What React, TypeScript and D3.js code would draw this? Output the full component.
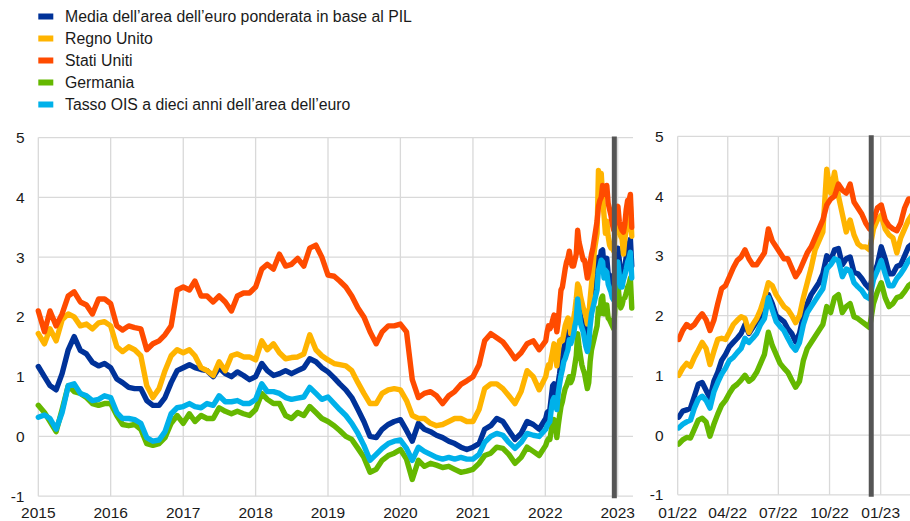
import React from "react";
import * as d3 from "d3";

const seriesNames = [
  "Media dell’area dell’euro ponderata in base al PIL",
  "Regno Unito",
  "Stati Uniti",
  "Germania",
  "Tasso OIS a dieci anni dell’area dell’euro",
];
const seriesColors = ["#003299", "#ffb400", "#ff4b00", "#65b800", "#00b1ea"];

// monthly readings, Jan 2015 - Dec 2021 (first of month)
const monthDates = d3.timeMonth.range(new Date(2015, 0, 1), new Date(2022, 0, 1));
// weekly readings from 3 Jan 2022 to 13 Mar 2023
const weekDates = d3.range(63).map((k) => d3.timeDay.offset(new Date(2022, 0, 3), 7 * k));

const euroAvgMonthly = [
  1.17, 1.0, 0.85, 0.78, 1.05, 1.45, 1.67, 1.44, 1.38, 1.24, 1.18, 1.22,
  1.15, 0.96, 0.9, 0.82, 0.8, 0.8, 0.6, 0.52, 0.52, 0.65, 0.9, 1.1,
  1.15, 1.2, 1.15, 1.12, 1.1, 1.0, 1.15, 1.05, 1.0, 1.08, 1.02, 0.95,
  1.0, 1.22, 1.1, 1.02, 1.05, 1.1, 1.05, 1.1, 1.15, 1.3, 1.25, 1.15,
  1.08, 0.98, 0.88, 0.78, 0.65, 0.45, 0.25, 0.0, -0.02, 0.12, 0.2, 0.25,
  0.28, 0.1, -0.08, 0.22, 0.12, 0.08, 0.02, -0.02, -0.08, -0.12, -0.18, -0.22,
  -0.18, -0.12, 0.12, 0.18, 0.3, 0.25, 0.1, -0.05, 0.05, 0.25, 0.2, 0.12,
];
const ukMonthly = [
  1.72, 1.55, 1.8, 1.6, 1.95, 2.05, 2.0, 1.85, 1.88, 1.8, 1.9, 1.92,
  1.85, 1.5, 1.42, 1.5, 1.45, 1.35, 0.85, 0.65, 0.8, 1.1, 1.35, 1.45,
  1.4, 1.45, 1.35, 1.15, 1.1, 1.02, 1.25, 1.1, 1.35, 1.38, 1.33, 1.33,
  1.28, 1.6, 1.45, 1.55, 1.4, 1.3, 1.32, 1.33, 1.38, 1.7, 1.45, 1.35,
  1.28, 1.22, 1.2, 1.18, 1.1, 0.9, 0.72, 0.55, 0.55, 0.72, 0.78, 0.8,
  0.78, 0.6, 0.35, 0.3, 0.3, 0.22, 0.18, 0.2, 0.25, 0.3, 0.3, 0.25,
  0.25, 0.45, 0.8, 0.88, 0.88, 0.8, 0.68, 0.55, 0.75, 1.1, 1.0, 0.78,
];
const usMonthly = [
  2.1, 1.75, 2.1, 1.85, 2.05, 2.35, 2.42, 2.25, 2.2, 2.05, 2.3, 2.3,
  2.22, 1.85, 1.78, 1.85, 1.82, 1.8, 1.45, 1.55, 1.6, 1.7, 1.85, 2.45,
  2.5, 2.45, 2.6, 2.35, 2.35, 2.25, 2.35, 2.25, 2.1, 2.35, 2.4, 2.4,
  2.5, 2.8, 2.88, 2.8, 3.05, 2.85, 2.88, 2.98, 2.85, 3.15, 3.2, 3.0,
  2.7, 2.68, 2.6, 2.5, 2.35, 2.15, 2.0, 1.75, 1.55, 1.75, 1.85, 1.85,
  1.88, 1.75, 0.95, 0.65, 0.72, 0.75, 0.68, 0.55, 0.68, 0.75, 0.87, 0.93,
  1.0, 1.2, 1.6, 1.72, 1.65, 1.58, 1.45, 1.3, 1.4, 1.55, 1.6, 1.45,
];
const germanyMonthly = [
  0.52, 0.4, 0.25, 0.08, 0.45, 0.85, 0.75, 0.72, 0.65, 0.55, 0.52, 0.55,
  0.55, 0.35, 0.2, 0.18, 0.2, 0.12, -0.12, -0.15, -0.12, -0.02, 0.22, 0.35,
  0.22, 0.38, 0.25, 0.35, 0.3, 0.3, 0.48, 0.42, 0.38, 0.42, 0.38, 0.35,
  0.45, 0.72, 0.62, 0.55, 0.55, 0.35, 0.3, 0.4, 0.35, 0.5, 0.4, 0.3,
  0.25, 0.18, 0.1, 0.0, -0.05, -0.2, -0.35, -0.6, -0.55, -0.4, -0.32, -0.28,
  -0.22, -0.38, -0.72, -0.4, -0.5, -0.45, -0.48, -0.52, -0.5, -0.55, -0.6, -0.58,
  -0.55, -0.45, -0.32, -0.28, -0.18, -0.2, -0.3, -0.45, -0.35, -0.18, -0.25, -0.32,
];
const oisMonthly = [
  0.32, 0.36, 0.3, 0.12, 0.4, 0.85, 0.88, 0.72, 0.68, 0.6, 0.62, 0.68,
  0.65, 0.4, 0.3, 0.3, 0.28, 0.22, -0.02, -0.08, -0.06, 0.08, 0.38, 0.48,
  0.5, 0.55, 0.5, 0.48, 0.55, 0.52, 0.68, 0.58, 0.58, 0.6, 0.55, 0.55,
  0.62, 0.88, 0.75, 0.75, 0.72, 0.65, 0.62, 0.64, 0.66, 0.82, 0.72, 0.62,
  0.66, 0.55, 0.45, 0.35, 0.22, 0.05, -0.15, -0.4, -0.3, -0.2, -0.12, -0.08,
  -0.06, -0.2, -0.4, -0.18, -0.25, -0.3, -0.35, -0.38, -0.35, -0.38, -0.35, -0.38,
  -0.38, -0.3, -0.1, 0.0, 0.05, 0.02, -0.1, -0.2, -0.1, 0.05, 0.02, 0.0,
];

const euroAvgWeekly = [
  0.3, 0.4, 0.42, 0.45, 0.65, 0.85, 0.88, 0.75, 0.62, 0.9, 1.05, 1.25, 1.35, 1.48, 1.55, 1.62,
  1.7, 1.85, 1.7, 1.8, 1.9, 1.95, 2.1, 2.35, 2.2, 2.0, 1.95, 1.9, 1.78, 1.7, 1.56, 1.7,
  2.0, 2.2, 2.35, 2.45, 2.55, 2.7, 3.0, 2.92, 3.1, 3.12, 2.85, 2.95, 2.98, 2.72, 2.7, 2.62,
  2.52, 2.45, 2.7, 2.85, 3.15, 2.95, 2.7, 2.7, 2.82, 2.85, 3.0, 3.15, 3.2, 3.3, 2.85,
];
const ukWeekly = [
  1.0, 1.12, 1.2, 1.15, 1.3, 1.42, 1.55, 1.45, 1.18, 1.4, 1.6, 1.62, 1.6, 1.72, 1.85, 1.92,
  1.98, 1.95, 1.72, 1.85, 1.95, 2.1, 2.3, 2.55, 2.5, 2.35, 2.25, 2.15, 2.1, 2.0, 1.88, 2.0,
  2.3, 2.55, 2.8, 3.1, 3.25, 3.4, 4.45, 4.05, 4.4, 4.0, 3.7, 3.4, 3.6, 3.35, 3.2, 3.15,
  3.15, 3.1, 3.45, 3.6, 3.68, 3.45, 3.35, 3.3, 3.05, 3.3, 3.45, 3.6, 3.7, 3.85, 3.35,
];
const usWeekly = [
  1.6, 1.75, 1.85, 1.8, 1.85, 1.95, 2.03, 1.93, 1.75, 1.92, 2.2, 2.45, 2.5, 2.65, 2.8, 2.92,
  2.98, 3.1, 2.95, 2.85, 2.85, 2.95, 3.05, 3.45, 3.25, 3.15, 3.05, 2.95, 2.95, 2.8, 2.65, 2.75,
  2.9, 3.05, 3.15, 3.3, 3.45, 3.6, 3.85, 3.95, 4.0, 4.2, 4.1, 4.05, 4.2, 3.9, 3.8, 3.7,
  3.55, 3.45, 3.6, 3.8, 3.85, 3.6, 3.5, 3.45, 3.42, 3.55, 3.8, 3.95, 3.95, 4.05, 3.5,
];
const germanyWeekly = [
  -0.15, -0.08, -0.04, -0.05, 0.1, 0.25, 0.28, 0.22, -0.02, 0.18, 0.35, 0.5, 0.58, 0.7, 0.8, 0.85,
  0.92, 1.0, 0.9, 0.95, 1.05, 1.2, 1.35, 1.72, 1.5, 1.35, 1.2, 1.12, 1.05, 0.92, 0.8, 0.9,
  1.25, 1.45, 1.55, 1.65, 1.75, 1.85, 2.15, 2.05, 2.3, 2.35, 2.05, 2.15, 2.2, 1.98, 1.95, 1.9,
  1.85, 1.8, 2.2, 2.4, 2.55, 2.3, 2.15, 2.2, 2.3, 2.32, 2.4, 2.5, 2.55, 2.65, 2.15,
];
const oisWeekly = [
  0.12, 0.18, 0.22, 0.25, 0.45, 0.6, 0.65, 0.58, 0.45, 0.72, 0.88, 1.02, 1.12, 1.25, 1.3, 1.38,
  1.45, 1.62, 1.55, 1.62, 1.7, 1.85, 1.95, 2.3, 2.1, 1.9, 1.82, 1.75, 1.62, 1.5, 1.42, 1.55,
  1.85, 2.05, 2.15, 2.25, 2.35, 2.45, 2.78, 2.85, 2.95, 2.92, 2.65, 2.78, 2.75, 2.55, 2.48, 2.42,
  2.32, 2.28, 2.6, 2.75, 2.92, 2.7, 2.5, 2.5, 2.62, 2.7, 2.8, 2.92, 2.98, 3.08, 2.65,
];

const yearTicks = ["2015", "2016", "2017", "2018", "2019", "2020", "2021", "2022", "2023"];
const quarterTicks = ["01/22", "04/22", "07/22", "10/22", "01/23"];
const yTicks = [-1, 0, 1, 2, 3, 4, 5];
const markerDate = new Date(2022, 11, 15);

const allDates = [...monthDates, ...weekDates];
const seriesValues = [
  [...euroAvgMonthly, ...euroAvgWeekly],
  [...ukMonthly, ...ukWeekly],
  [...usMonthly, ...usWeekly],
  [...germanyMonthly, ...germanyWeekly],
  [...oisMonthly, ...oisWeekly],
];

const W = 910;
const H = 521;
const FONT = "'Liberation Sans', Arial, Helvetica, sans-serif";
const GRID = "#d9d9d9";
const LINE_W = 5.4;

export default function App() {
  // left panel
  const xL = d3.scaleTime().domain([new Date(2015, 0, 1), new Date(2023, 0, 1)]).range([38.3, 617.7]);
  const yL = d3.scaleLinear().domain([-1, 5]).range([496.2, 137.6]);
  const leftRight = 633;
  // right panel
  const xR = d3.scaleTime().domain([new Date(2022, 0, 1), new Date(2023, 0, 1)]).range([677.7, 880.7]);
  const yR = d3.scaleLinear().domain([-1, 5]).range([494.8, 136.3]);
  const rightLeft = 677.7;

  const pts = seriesValues.map((vals) => vals.map((v, i) => [allDates[i], v] as [Date, number]));
  const lineL = d3.line<[Date, number]>().x((d) => xL(d[0])).y((d) => yL(d[1]));
  const lineR = d3.line<[Date, number]>().x((d) => xR(d[0])).y((d) => yR(d[1]));
  const start22 = new Date(2022, 0, 1);

  const yearDates = yearTicks.map((t) => new Date(+t, 0, 1));
  const quarterDates = quarterTicks.map((t) => {
    const [m, y] = t.split("/");
    return new Date(2000 + +y, +m - 1, 1);
  });

  return (
    <svg
      width={W}
      height={H}
      style={{ position: "absolute", left: 0, top: 0, background: "#fff" }}
      fontFamily={FONT}
    >
      <defs>
        <clipPath id="clipR">
          <rect x={rightLeft} y={120} width={W - rightLeft} height={390} />
        </clipPath>
      </defs>

      {/* legend */}
      {seriesNames.map((n, i) => (
        <g key={n} transform={`translate(0, ${16.5 + 22 * i})`}>
          <rect x={38.3} y={-3} width={15} height={6} fill={seriesColors[i]} />
          <text x={65} y={5.6} fontSize={15.8} fill="#1a1a1a">
            {n}
          </text>
        </g>
      ))}

      {/* left grid */}
      {yTicks.map((t) => (
        <line key={"lh" + t} x1={xL.range()[0]} x2={leftRight} y1={yL(t)} y2={yL(t)} stroke={GRID} strokeWidth={1.3} />
      ))}
      {yearDates.map((d, i) => (
        <line key={"lv" + i} x1={xL(d)} x2={xL(d)} y1={yL(5)} y2={yL(-1)} stroke={GRID} strokeWidth={1.3} />
      ))}
      {yTicks.map((t) => (
        <text key={"lyt" + t} x={24.5} y={yL(t) + 5.5} fontSize={15.5} textAnchor="end" fill="#1a1a1a">
          {t}
        </text>
      ))}
      {yearDates.map((d, i) => (
        <text key={"lxt" + i} x={xL(d)} y={518} fontSize={15.5} textAnchor="middle" fill="#1a1a1a">
          {yearTicks[i]}
        </text>
      ))}

      {/* right grid */}
      {yTicks.map((t) => (
        <line key={"rh" + t} x1={rightLeft} x2={W} y1={yR(t)} y2={yR(t)} stroke={GRID} strokeWidth={1.3} />
      ))}
      {quarterDates.map((d, i) => (
        <line key={"rv" + i} x1={xR(d)} x2={xR(d)} y1={yR(5)} y2={yR(-1)} stroke={GRID} strokeWidth={1.3} />
      ))}
      {yTicks.map((t) => (
        <text key={"ryt" + t} x={663.5} y={yR(t) + 5.5} fontSize={15.5} textAnchor="end" fill="#1a1a1a">
          {t}
        </text>
      ))}
      {quarterDates.map((d, i) => (
        <text key={"rxt" + i} x={xR(d)} y={518} fontSize={15.5} textAnchor="middle" fill="#1a1a1a">
          {quarterTicks[i]}
        </text>
      ))}

      {/* left lines */}
      {pts.map((p, i) => (
        <path
          key={"ll" + i}
          d={lineL(p) || ""}
          fill="none"
          stroke={seriesColors[i]}
          strokeWidth={LINE_W}
          strokeLinejoin="round"
          strokeLinecap="round"
        />
      ))}
      {/* right lines */}
      <g clipPath="url(#clipR)">
        {pts.map((p, i) => (
          <path
            key={"rl" + i}
            d={lineR(p.filter((d) => d[0] >= start22)) || ""}
            fill="none"
            stroke={seriesColors[i]}
            strokeWidth={LINE_W}
            strokeLinejoin="round"
            strokeLinecap="round"
          />
        ))}
      </g>

      {/* marker bars */}
      <line x1={xL(markerDate)} x2={xL(markerDate)} y1={yL(5) - 1} y2={yL(-1) + 2} stroke="#555555" strokeWidth={5} />
      <line x1={xR(markerDate)} x2={xR(markerDate)} y1={yR(5) - 1} y2={yR(-1) + 2} stroke="#555555" strokeWidth={5} />
    </svg>
  );
}
